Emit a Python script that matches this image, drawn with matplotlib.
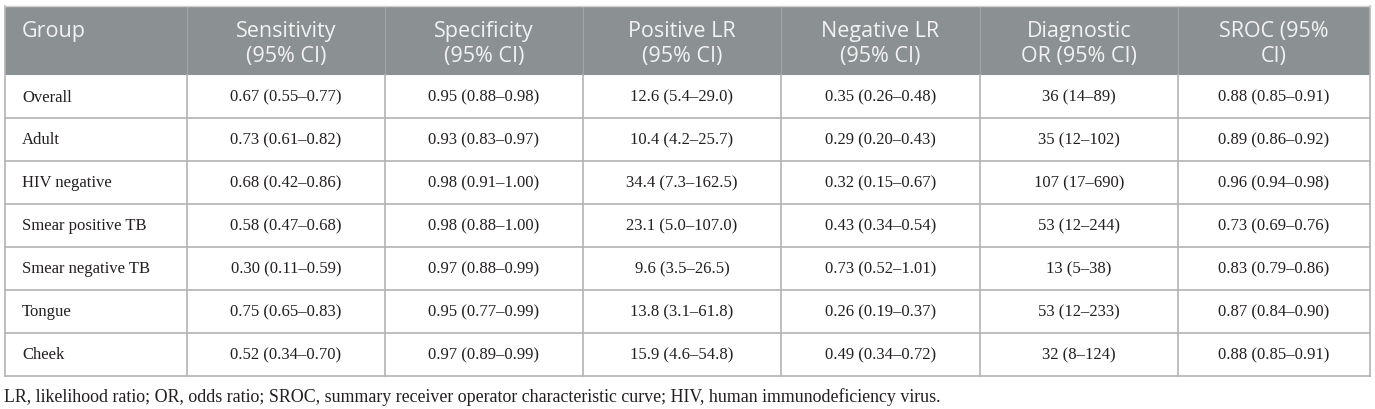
import matplotlib.pyplot as plt
from matplotlib.patches import Rectangle

# table contents
headers = ["Group", "Sensitivity\n(95% CI)", "Specificity\n(95% CI)", "Positive LR\n(95% CI)",
           "Negative LR\n(95% CI)", "Diagnostic\nOR (95% CI)", "SROC (95%\nCI)"]
groups = ["Overall", "Adult", "HIV negative", "Smear positive TB", "Smear negative TB", "Tongue", "Cheek"]
sensitivity = ["0.67 (0.55\u20130.77)", "0.73 (0.61\u20130.82)", "0.68 (0.42\u20130.86)", "0.58 (0.47\u20130.68)",
               "0.30 (0.11\u20130.59)", "0.75 (0.65\u20130.83)", "0.52 (0.34\u20130.70)"]
specificity = ["0.95 (0.88\u20130.98)", "0.93 (0.83\u20130.97)", "0.98 (0.91\u20131.00)", "0.98 (0.88\u20131.00)",
               "0.97 (0.88\u20130.99)", "0.95 (0.77\u20130.99)", "0.97 (0.89\u20130.99)"]
positive_lr = ["12.6 (5.4\u201329.0)", "10.4 (4.2\u201325.7)", "34.4 (7.3\u2013162.5)", "23.1 (5.0\u2013107.0)",
               "9.6 (3.5\u201326.5)", "13.8 (3.1\u201361.8)", "15.9 (4.6\u201354.8)"]
negative_lr = ["0.35 (0.26\u20130.48)", "0.29 (0.20\u20130.43)", "0.32 (0.15\u20130.67)", "0.43 (0.34\u20130.54)",
               "0.73 (0.52\u20131.01)", "0.26 (0.19\u20130.37)", "0.49 (0.34\u20130.72)"]
diagnostic_or = ["36 (14\u201389)", "35 (12\u2013102)", "107 (17\u2013690)", "53 (12\u2013244)",
                 "13 (5\u201338)", "53 (12\u2013233)", "32 (8\u2013124)"]
sroc = ["0.88 (0.85\u20130.91)", "0.89 (0.86\u20130.92)", "0.96 (0.94\u20130.98)", "0.73 (0.69\u20130.76)",
        "0.83 (0.79\u20130.86)", "0.87 (0.84\u20130.90)", "0.88 (0.85\u20130.91)"]
footnote = ("LR, likelihood ratio; OR, odds ratio; SROC, summary receiver operator characteristic curve; "
            "HIV, human immunodeficiency virus.")

columns = [groups, sensitivity, specificity, positive_lr, negative_lr, diagnostic_or, sroc]

# layout in pixels
col_edges = [5, 187, 385, 583, 781, 980, 1178, 1370]
header_top, header_bottom = 7, 76
row_h = (377 - header_bottom) / len(groups)
n_rows = len(groups)
table_bottom = header_bottom + row_h * n_rows

header_bg = "#8b9092"
line_col = "#b3b3b3"

fig = plt.figure(figsize=(13.75, 4.10), dpi=100)
ax = fig.add_axes([0, 0, 1, 1])
ax.set_xlim(0, 1375)
ax.set_ylim(410, 0)
ax.axis("off")

# header background
ax.add_patch(Rectangle((col_edges[0], header_top), col_edges[-1] - col_edges[0],
                       header_bottom - header_top, facecolor=header_bg, edgecolor="none"))

# header text
for i, h in enumerate(headers):
    if i == 0:
        x, ha = col_edges[0] + 17, "left"
        y = 32
    else:
        x, ha = (col_edges[i] + col_edges[i + 1]) / 2, "center"
        y = 44
    ax.text(x, y, h, ha=ha, va="center", color="#f2f2f2",
            fontsize=15.5, family="Open Sans", linespacing=1.2)

# body text
for i, col in enumerate(columns):
    for r, val in enumerate(col):
        y = header_bottom + row_h * (r + 0.5)
        if i == 0:
            x, ha = col_edges[0] + 17, "left"
        else:
            x, ha = (col_edges[i] + col_edges[i + 1]) / 2, "center"
        ax.text(x, y, val, ha=ha, va="center", color="#231f20", fontsize=12,
                family="Liberation Serif")

# grid lines
for r in range(1, n_rows + 1):
    y = header_bottom + row_h * r
    ax.plot([col_edges[0], col_edges[-1]], [y, y], color=line_col, lw=1.2)
for i, x in enumerate(col_edges):
    if i in (0, len(col_edges) - 1):
        ax.plot([x, x], [header_top, table_bottom], color=line_col, lw=1.2)
    else:
        ax.plot([x, x], [header_top, header_bottom], color="#a0a4a6", lw=0.8)
        ax.plot([x, x], [header_bottom, table_bottom], color=line_col, lw=1.2)
ax.plot([col_edges[0], col_edges[-1]], [header_top, header_top], color="#d0d0d0", lw=1)

ax.text(col_edges[0] - 1, 397, footnote, ha="left", va="center", color="#231f20",
        fontsize=12.9, family="Liberation Serif")

fig.savefig("out.png", dpi=100, facecolor="white")
